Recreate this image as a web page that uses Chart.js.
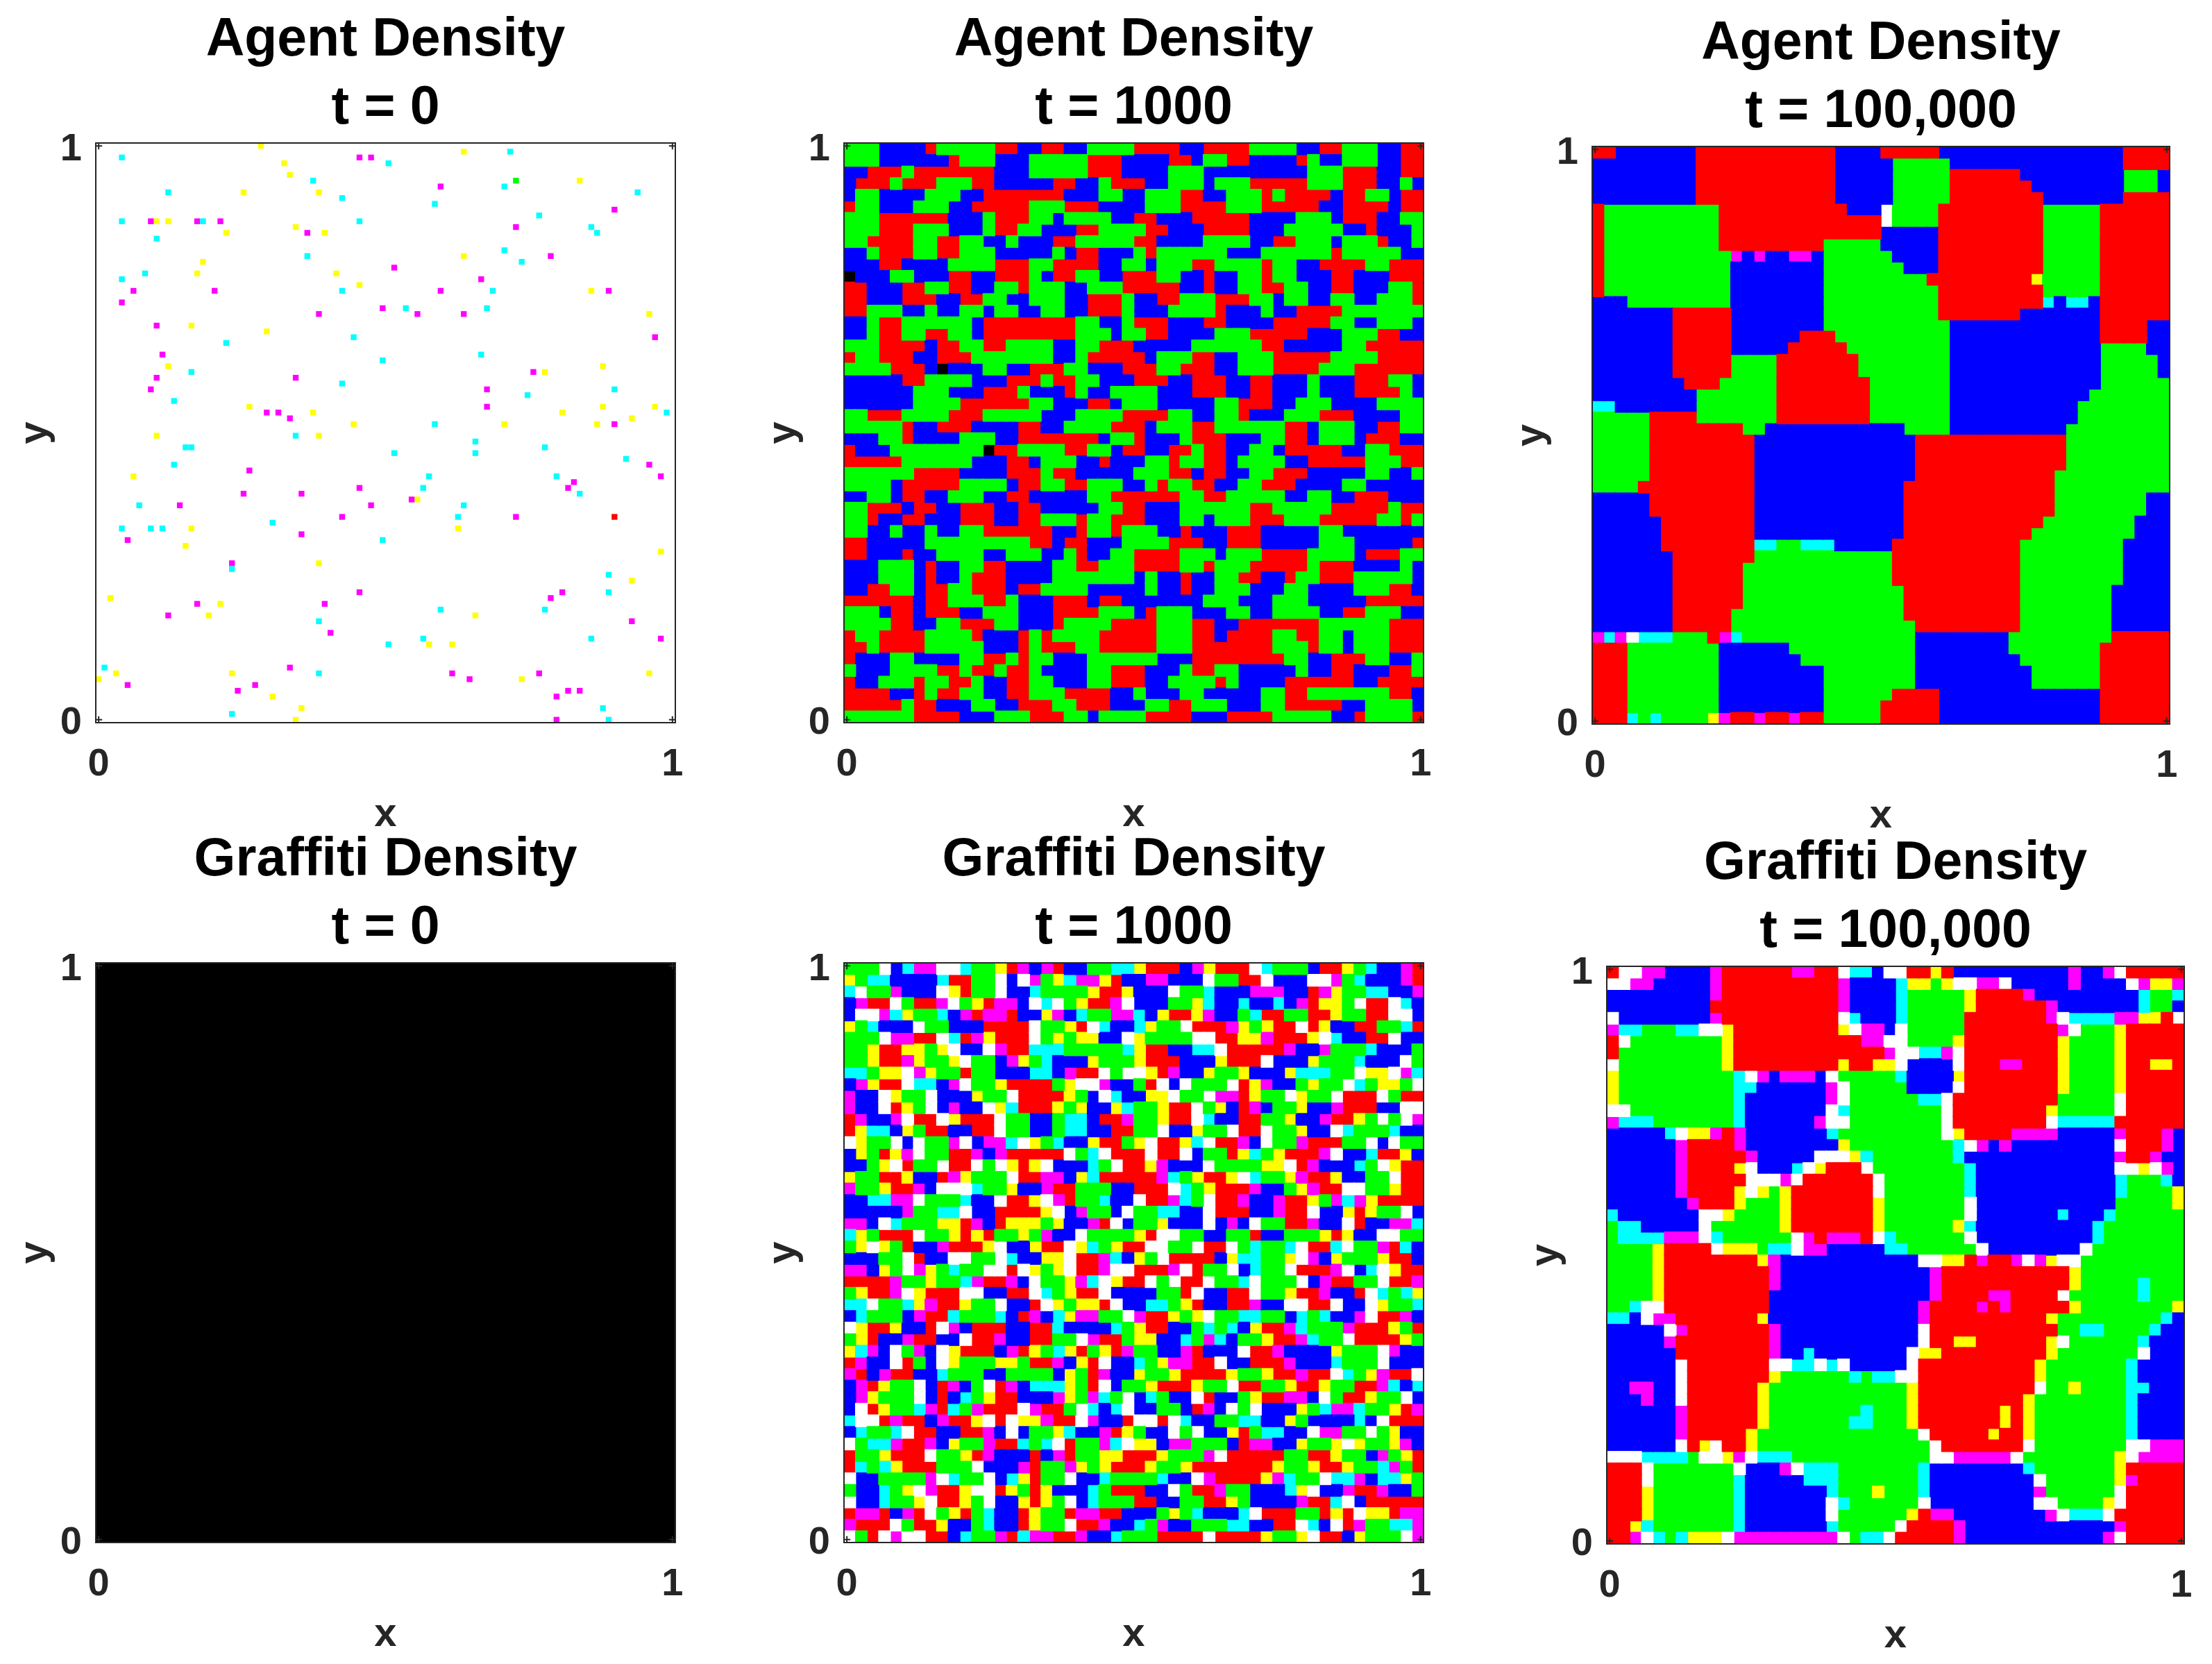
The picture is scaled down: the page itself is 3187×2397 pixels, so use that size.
<!DOCTYPE html>
<html>
<head>
<meta charset="utf-8">
<title>Agent and Graffiti Density</title>
<script src="https://cdn.jsdelivr.net/npm/chart.js@4"></script>
<style>
    html, body { margin: 0; padding: 0; background: #fff; width: 3187px; height: 2397px; overflow: hidden; }
    canvas { position: absolute; }
</style>
</head>
<body>
<script>
// t = 0 agents, [column, row] on the 100 x 100 lattice, row 0 at the top
const agentT0Cyan = [[4,2],[12,8],[4,13],[10,16],[18,13],[37,6],[42,9],[50,3],[45,13],[58,10],[71,1],[70,7],[76,12],[85,14],[86,15],[93,8],[70,18],[73,20],[36,19],[4,23],[8,22],[42,25],[68,25],[53,28],[67,28],[22,34],[44,33],[66,36],[49,37],[16,39],[42,41],[13,44],[74,43],[89,42],[98,46],[58,48],[34,50],[15,52],[16,52],[65,51],[65,53],[77,52],[51,53],[91,54],[13,55],[57,57],[56,59],[79,57],[83,60],[7,62],[63,62],[62,64],[30,65],[4,66],[9,66],[11,66],[49,68],[23,73],[88,74],[88,77],[59,80],[77,80],[38,82],[56,85],[50,86],[85,85],[1,90],[38,91],[23,98],[87,97],[88,99]];
const agentT0Magenta = [[45,2],[47,2],[59,7],[89,11],[9,13],[17,13],[21,13],[36,15],[72,14],[78,19],[51,21],[66,23],[6,25],[20,25],[59,25],[88,25],[4,27],[49,28],[38,29],[55,29],[63,29],[10,31],[96,33],[11,36],[75,39],[34,40],[10,40],[9,42],[67,42],[67,45],[29,46],[31,46],[33,47],[89,48],[26,56],[95,55],[97,57],[82,58],[81,59],[45,59],[25,60],[35,60],[47,62],[54,61],[14,62],[42,64],[72,64],[5,68],[35,67],[23,72],[45,77],[80,77],[78,78],[17,79],[39,79],[12,81],[92,82],[40,84],[97,85],[33,90],[61,91],[64,92],[76,91],[5,93],[27,93],[24,94],[79,95],[81,94],[83,94],[79,99]];
const agentT0Yellow = [[28,0],[63,1],[32,3],[33,5],[83,6],[25,8],[38,8],[10,13],[12,13],[34,14],[22,15],[39,15],[18,20],[63,19],[17,22],[41,22],[45,24],[85,25],[95,29],[16,31],[29,32],[12,38],[77,39],[87,38],[26,45],[37,46],[87,45],[96,45],[80,46],[92,47],[44,48],[70,48],[86,48],[10,50],[38,50],[6,57],[55,61],[16,66],[62,66],[15,69],[97,70],[38,72],[92,75],[2,78],[21,79],[19,81],[65,81],[57,86],[61,86],[3,91],[23,91],[95,91],[0,92],[73,92],[30,95],[35,97],[34,99]];
const agentT0Red = [[89,64]];
const agentT0Green = [[72,6]];

// Cell states per row, top row first. Spaces are only there to make the rows countable.
const agentT1000 = [
    'GGGBBBBRGG GGGRRBBRRB BGGGGRRRRB BRRRRGGGGB BRRGGGBBRR',
    'GGGBBBBBBR GGGBBBGGGG GRRRBBBBRR BGGRRBBBBR GBBGGGBBRR',
    'BBRRRGRRRR RRRBBBGGGG GRRRBBBBGG GBBBBBBBBB GGGRRRBBRR',
    'BRRRGRRRGG GRRBBBBBRR BBGRRRBBGG GBGGGRRRRR GGGRRRBBGB',
    'BGGBBBBGGG BBRRRRRRRB BBGGBBGGGR RBBGGGRGRR RRBRRGGBRR',
    'RGGBBBGGGB BRRRRRGGGR RRBBBBGGGR RRRGGGRRRR RBBRRRRBRR',
    'GGGRRRRRRB BBGRRRGGBG GGGBBRRBBB RRRRRBBBBG GGBRRRBBGG',
    'GGGRRRGGGB BBGRRGGBBB RRGGGGRRBB BRRRRBBBGG GGGBBRBBBG',
    'GGRRRRGGRR GGBBGBBBRR GGGGGRRBBB BGGGGBBRRG GGBGGGRBBG',
    'BBGRRRGGRR GGGBBBBBGB RRBBBGRGGG GGGBBBGGGG GGRGGGGGBB',
    'BBBRRBBBBG GGGRRRGGRR RRBBGGBGGG RRGGGGRGGB BRRRRGGRRR',
    'KBBBGGBBBR RBBRRRGBRR GGBBRRRGGB BRBBGGRGGB BBRRBBBRRR',
    'RRBBBRRGGR RBBGGRGGGB BGGGRRRRRB BRBBGGRRGG BBRRBBBGGR',
    'RRBBBRRRBB RRGGBBGGGB BRRRGBBRRG GGRRRGGBGG BBGGBBGGGR',
    'RRGGGBBGBB GGBGGBBGGB BRRRGBBBGG GGRBBBGBBR RRRGGGGGGG',
    'BBGRRGGGGG GBRRRRRRRR GGBBGRRRBB BRRBBBBRRR RRGGBBGGGB',
    'BBGRRGGRRG GBRRRRRRRR GGGBGGRRBB BBGGGRRRRR BBBGGGRRBB',
    'GGGRRRRBRR GGRRGGGGBB GGRRRBBBBB GGGGGGRRBB BBBGGRRRRR',
    'RGGRRRBBRR RGGGGGGGBB GRRRRRBGGG RRBBGGGRRR RRGGGGRRRR',
    'GGGGRRRBKB BBGGBBRRRG GBBBRRRGGR RRBBGGGRRR RGGGRRRRRR',
    'BBBBBRRGGG GBBBRRRGRR GGBBBRRRBB RRRBBRRBBB GBBBRRRGGB',
    'BBBBBBGGGB BBRRRGBBBR GBBGGGGBBB RRRBBRRBBB GBBBRRRRGB',
    'BBBBBBGGGG RRRRRRGGBB BRRBGGGBBB BBGGRRRBBG GGBBBBGGGG',
    'GGRRRGGGGR RRGGGGGBBB GGGGRRRRGG BBGGRBBBGG GRRRBBBBGG',
    'GGGGGRBBRR RBBBBRRBBG GGGRRRBGGG RRGGGGGGRR BGGGBBRRGG',
    'BBBGGRBBBB GGGBBRRRRR RRBGGRBBBG RRRBBBGGRR BGGGBRRRBB',
    'RBBBGGGGGG GGKRRGGGGR RGGBRRBBRR GRRBBGGBRR RRRBBGGRRR',
    'RRRRRGGGGG GBBBRRBGGG BBRBBBGGRG GRRBGGGGBB RRRRRGGGRR',
    'GGGGGGRRRR BBBBRRRGRR BBBBBGGGRR BRRBBGGRRR BBBBBGGBBG',
    'GGGGBRRRRR GGGGBRRGGR RGGGBBGRGG RRBBGGRRRB BBBGGBBBBB',
    'BBGGBRRBBG GGBBRRBBBB BGGRRRRRRG GRRGGGGGBB GGBBRRRBBB',
    'GGRRRBRRBB RRRBBRRBBB BBGGRRBBBG GGGGGRRGGG GGRRRRRGRR',
    'GGRBBRRBBB RRRBBRRGGG RGGRRRBBBG GBGGGRRRGG GRRRRRGGRG',
    'GGBBGBBGBB GGRRRRRRBB RGGRGGGBBR BBBRRRBBBB BGGBBBBBBB',
    'RRBBBBBGGG GGGGGGRRBR RBBBGGGGRR RBBRRRBBBB BGGGBBBBBR',
    'RRBBBRBBGG GGBBGGGBBG RBBGGRRRRG GGBGGGRRRR GGGGBRRRGG',
    'BBBGGGBRBB GGRRBBBBGG RRGGGRRRRG GRGGGRRRRR GRRRBBBBGB',
    'BBBGGGBRBB GRRRBBBBGG GGGGGBGBBR BBGGRRBBRG GRRRGGGGGB',
    'BBRRGGBRRG GRRRBRRGGG GBBBBBGBBR BBGGGBBBGG BBBBGGGRRB',
    'RRRRRRBRRG GGRRGBBBRR RBRRBBBBBB BGGGBBBGGG BBBBBRRRRR',
    'GGGBRRBRRR BBGGGBBBRR RRGGGBRGGG BBBGGBBGGG GBBRRGGGBB',
    'GGGGRRBBGG RRRGGBBBRG GGGRRRRGGG RRBBRRRRRR RGGGGGGRRR',
    'RGGRRRRGGG GRBBBRGRGG GGRRRRRGGG RRBRRRRGGR RGGBGGGRRR',
    'RRGRRRRGGG GGBBBRGRRR GGRRRRRGGG RRRRRRRGGG RGGBGGGRRR',
    'RBBBGGBBBB GGRRGRGGBB BGGGGGGBBB RRRRRRRRGG BBRRRGGBBG',
    'GBBBGGGGRR GRRGRRGBBB BGGRRRBBBG RRGGBBBBBG BBRRBBBRRG',
    'RBBGGGRGGR RGBBRRGGBB BGGRRRBBGG GGRGBBBBRR RRRRBBRRRR',
    'RRRRBBRGRR GGBBRRGGGR RRRBBGBBBG GBBBBBGGRR GGGGGGGRRB',
    'RRRRRGRRBB BGGBBRRRGG RRRBBBGGRR GGGBBBGGRR RRRBBGGGGB',
    'GGGGGGRRRR BBBGGGRRRG GBGGGGRRRR BBBRRRRGGG GGBBRGGGGR'
];

const agentT100000 = [
    'RRBBBBBBBR RRRRRRRRRR RBBBBRRRRR BBBBBBBBBB BBBBBBRRRR',
    'BBBBBBBBBR RRRRRRRRRR RBBBBBGGGG GBBBBBBBBB BBBBBBRRRR',
    'BBBBBBBBBR RRRRRRRRRR RBBBBBGGGG GRRRRRRBBB BBBBBBGGGB',
    'BBBBBBBBBR RRRRRRRRRR RBBBBBGGGG GRRRRRRRBB BBBBBBGGGB',
    'BBBBBBBBBR RRRRRRRRRR RBBBBBGGGG GRRRRRRRRB BBBBBBRRRR',
    'RGGGGGGGGG GRRRRRRRRR RRBBBWGGGG RRRRRRRRRG GGGGRRRRRR',
    'RGGGGGGGGG GRRRRRRRRR RRRRRWGGGG RRRRRRRRRG GGGGRRRRRR',
    'RGGGGGGGGG GRRRRRRRRR RRRRRBBBBB RRRRRRRRRG GGGGRRRRRR',
    'RGGGGGGGGG GRRRRRRRRR GGGGGBBBBB RRRRRRRRRG GGGGRRRRRR',
    'RGGGGGGGGG GGMBMBBMMB GGGGGGBBBB RRRRRRRRRG GGGGRRRRRR',
    'RGGGGGGGGG GGBBBBBBBB GGGGGGGBBB RRRRRRRRRG GGGGRRRRRR',
    'RGGGGGGGGG GGBBBBBBBB GGGGGGGGGR RRRRRRRRYG GGGGRRRRRR',
    'RGGGGGGGGG GGBBBBBBBB GGGGGGGGGG RRRRRRRRRG GGGGRRRRRR',
    'BBBGGGGGGG GGBBBBBBBB GGGGGGGGGG RRRRRRRRRC BCCBRRRRRR',
    'BBBBBBBRRR RRBBBBBBBB GGGGGGGGGG RRRRRRRBBB BBBBRRRRRR',
    'BBBBBBBRRR RRBBBBBBBB GGGGGGGGGG GBBBBBBBBB BBBBRRRRBB',
    'BBBBBBBRRR RRBBBBBBRR RGGGGGGGGG GBBBBBBBBB BBBBRRRRBB',
    'BBBBBBBRRR RRBBBBBRRR RRGGGGGGGG GBBBBBBBBB BBBBGGGGBB',
    'BBBBBBBRRR RRGGGGRRRR RRRGGGGGGG GBBBBBBBBB BBBBGGGGGB',
    'BBBBBBBRRR RRGGGGRRRR RRRGGGGGGG GBBBBBBBBB BBBBGGGGGB',
    'BBBBBBBBRR RGGGGGRRRR RRRRGGGGGG GBBBBBBBBB BBBBGGGGGG',
    'BBBBBBBBBG GGGGGGRRRR RRRRGGGGGG GBBBBBBBBB BBBGGGGGGG',
    'CCBBBBBBBG GGGGGGRRRR RRRRGGGGGG GBBBBBBBBB BBGGGGGGGG',
    'GGGGGRRRRG GGGGGGRRRR RRRRGGGGGG GBBBBBBBBB BBGGGGGGGG',
    'GGGGGRRRRR RRRGGBBBBB BBBBBBBGGG GBBBBBBBBB BGGGGGGGGG',
    'GGGGGRRRRR RRRRBBBBBB BBBBBBBBRR RRRRRRRRRR RGGGGGGGGG',
    'GGGGGRRRRR RRRRBBBBBB BBBBBBBBRR RRRRRRRRRR RGGGGGGGGG',
    'GGGGGRRRRR RRRRBBBBBB BBBBBBBBRR RRRRRRRRRR RGGGGGGGGG',
    'GGGGGRRRRR RRRRBBBBBB BBBBBBBBRR RRRRRRRRRR GGGGGGGGGG',
    'GGGGRRRRRR RRRRBBBBBB BBBBBBBRRR RRRRRRRRRR GGGGGGGGGG',
    'BBBBBRRRRR RRRRBBBBBB BBBBBBBRRR RRRRRRRRRR GGGGGGGGBB',
    'BBBBBRRRRR RRRRBBBBBB BBBBBBBRRR RRRRRRRRRR GGGGGGGGBB',
    'BBBBBBRRRR RRRRBBBBBB BBBBBBBRRR RRRRRRRRRG GGGGGGGBBB',
    'BBBBBBRRRR RRRRBBBBBB BBBBBBBRRR RRRRRRRRGG GGGGGGGBBB',
    'BBBBBBRRRR RRRRCCGGCC CBBBBBRRRR RRRRRRRGGG GGGGGGBBBB',
    'BBBBBBBRRR RRRRGGGGGG GGGGGGRRRR RRRRRRRGGG GGGGGGBBBB',
    'BBBBBBBRRR RRRGGGGGGG GGGGGGRRRR RRRRRRRGGG GGGGGGBBBB',
    'BBBBBBBRRR RRRGGGGGGG GGGGGGRRRR RRRRRRRGGG GGGGGGBBBB',
    'BBBBBBBRRR RRRGGGGGGG GGGGGGGRRR RRRRRRRGGG GGGGGBBBBB',
    'BBBBBBBRRR RRRGGGGGGG GGGGGGGRRR RRRRRRRGGG GGGGGBBBBB',
    'BBBBBBBRRR RRGGGGGGGG GGGGGGGRRR RRRRRRRGGG GGGGGBBBBB',
    'BBBBBBBRRR RRGGGGGGGG GGGGGGGGRR RRRRRRRGGG GGGGGBBBBB',
    'MCMWCCCGGG RMCGGGGGGG GGGGGGGGBB BBBBBBGGGG GGGGGRRRRR',
    'RRRGGGGGGG GBBBBBBGGG GGGGGGGGBB BBBBBBGGGG GGGGRRRRRR',
    'RRRGGGGGGG GBBBBBBBGG GGGGGGGGBB BBBBBBBGGG GGGGRRRRRR',
    'RRRGGGGGGG GBBBBBBBBB GGGGGGGGBB BBBBBBBBGG GGGGRRRRRR',
    'RRRGGGGGGG GBBBBBBBBB GGGGGGGGBB BBBBBBBBGG GGGGRRRRRR',
    'RRRGGGGGGG GBBBBBBBBB GGGGGGRRRR BBBBBBBBBB BBBBRRRRRR',
    'RRRGGGGGGG GBBBBBBBBB GGGGGRRRRR BBBBBBBBBB BBBBRRRRRR',
    'RRRCGCGGGG YMRRMRRMRR GGGGGRRRRR BBBBBBBBBB BBBBRRRRRR'
];

// no graffiti yet: the whole field is black
const graffitiT0 = [
    'KKKKKKKKKK', 'KKKKKKKKKK', 'KKKKKKKKKK', 'KKKKKKKKKK', 'KKKKKKKKKK',
    'KKKKKKKKKK', 'KKKKKKKKKK', 'KKKKKKKKKK', 'KKKKKKKKKK', 'KKKKKKKKKK'
];

const graffitiT1000 = [
    'GGGWBCMMWW CGGYRMBMRB BGGCCYRRRB MYRRRWCGGG BRRYGCBBMR',
    'YGCCBBBBCR RGGWBWMGYC MMYRBBMMBB BWGGRRWBBB WWMGCBBBMR',
    'CWGGMBBBWY RGGWBBCGGG GYRRYBBBWG GCBBBMMMBB RMYGGCCBBM',
    'BMRRWGRRMW GYRMMBWCWG YRRMWBBBGG YCBBCBBCBM RYYGWRRWCB',
    'BWWMCYGGCB MRMMRBBYMB CGGMMCBYRR YMBBGCRRGG RRYGGRRWWB',
    'YGCBBBWGGB BBRRRRWGGY RWCBBCYGGW RRRMYGYRRW RYBBRRGGCR',
    'GGGWMMRRWC RMYRRRWGYG YYBBWYGGGG WWRRYYMRRR YWCBBRRWBB',
    'GGYRRYYGYW BBWMRRCCCG GGGGCYRRBB CCWRRRRRMB BMGGGCBBBG',
    'GGYRRMYGGY WGGBMYGCBB BYGGGYRRRB BBYRRRWBBB YGGGCBBBWG',
    'CCGYYWMYGG RGGBBBCCBM RRWGWWYRMB BYGGYBBBYC CCGGWYYWMC',
    'BMYRRWCCBM WGGYRRRRGY WWMBBGRWBW GGGWRYMBBG YGGWCGYYGW',
    'MBBWYGGWBB BYGGWRRRRY GBWCBBYYWG GWMMRYGGWY GGWRRRWGRR',
    'MBBWRYGWBM BBWYCRRRYG YBBYCGGYRR WGYBRMBGGY BBMRRRBBWW',
    'RMBBMWRRWY RRRWGGBBGC CBRRMGGYRR WCBBRRGGYB BMRRYGWGWM',
    'RYCCBYGRRB BRRWGGBBGC CBBRRGGWBB YGGWRRWGGY BBWCGGGCBB',
    'WYGGWBWGGM WBMMCWYGCB BYRRGYWRRY CWRRMBWGGM RRRGGWBWGG',
    'BYGRYMWGGR RMBMRRRRRW GCWRRRWRRW BGGRYCGYRR RMWBBCRRYB',
    'BBGYWRGGWR RWGWYRYWBB BCGWRRYMBB BWGGGGYYWR MBBBCGWYRR',
    'YGGRRYBBRM YGGGWRRMMB YCRRRRRMCG YRRYWCGGYM RRYBBGGWRR',
    'MGGYRRMBWW WCGGYBBMRR GGGBBRRRWC GYRRRMBBGY MRRWWGGYRR',
    'BBCCMMWGGG CBBWRRYWMR GGCBBWRRMC GWRRMBBMRR YGMCMYRRRR',
    'BBBBBMGGCC WBBRRRRYWB MGGBWGGCCB BWRRRBBMRR WBBYRYGGWB',
    'MMBWCGGGYY RMBRYYYGYB BMRWBGGYBB BWBMBWGGRR MBBWRBBMMC',
    'CYGRRRWGGY RYRGGYGMBB WGGGGYRWWG GBBGGRBBGG GYRYBBWWGG',
    'GYWYGRBBMR RRYWBBYRRW YCGYRRWWGG WRRWGCGGCW RRCWGGMRCB',
    'BBBGGWRBBW WGGWCBBYYW RRMCBYGWRR RRBYCCGGYW MBYGGGYRRB',
    'MMBYGWMYGC GGWWRWYGYW RRMWWRRRMW RGGWBCGGWR RRMWBCWYRR',
    'RRRRMGGYGG CMRRMBWGGY MCWYRRWGWR RWGGCWGGGW BMRRGGWRRM',
    'GYRRMWYRRR WWBBRRWCGY RRWBBBBGGR WBBRRWGGYR RMBBRWCGCY',
    'CCWGGCYMRR YGGWBBRWYG YYRWBBCCGY RBBRRMBBWW RRWBBWYGGC',
    'BCGGGBMRRC GGGCBRMBCY MMGGWMRRYG YWGGCCGGBC GCBBMWRRMB',
    'WYRRYBBRWM BRRRBBRRCB BBBCGYRRBB GCGCBYRRMC GGGMRRRYGR',
    'GYRBBMRRBB WRRMBBRRGG WMRRGYYBBC GMCBGGYRRM CGGWRRRRYG',
    'YCMBWGMBWY RRRBMRYGCY RGYRMGGBBM RBBBWRRMBB BBYGGGWMBB',
    'RMBBWRGBWY GGGYYGRRMB YRWBBCGYMM RRWBBRRRMB BBCGGGWBBB',
    'MRBMRRBBCG GGBBGGGGBY GRMBBYGGYR RRRYGGYRRM RRWCGYMRRW',
    'BMRYGGWBRM BGWRMBCCCY GRWBGGYRRR YGGWRRGGYR RYGGRRMCBC',
    'BMYGGGWBRB CGYRRBBBMY GMCGWBCGBB WRBBGYRRMM BWGRRYGGWB',
    'BWRYGGCMRC GMRRRWMRRG WCBCWBBGGB RMBWGWBBBY GCMMCGGYRM',
    'CWWRMRRBMR RYWRWYYMRR WMBBRWWRWC BBGGCCBBYG BBBBCBWRRR',
    'BCGGCWRRBB RRMBWBGGYC BBMRYGBBWG WBBYRGCCBB WMMGGWGYBB',
    'WGCCMRRMBY GGMRRCGCWR GGMCWYYBMM GGGBRMMBBY GGYWYGGYMB',
    'RGGYRRRWGG YRMBBBRBMR GGYYRRRYGG GMWRRRRRGG RRYGGBMGYR',
    'RCGCYRRRGG GWBBBMRGGM YGYRRRYGGY RRRRRRRYGG YRRYGGCMGR',
    'WBBGGGGMWC GGWBCYRGGW BBCGGGGCBB WMRRRRYMCG GWCCMBCCYG',
    'GBBCGYWMRR YWWRYGRYBB BCGRRRBBWG RRMGGBBBCY WBBMRRMBBG',
    'WBBCGGYWRR YGWBBYRYGW BCGGGRRBBG GRRYGBBBBM RRCWBRRRRR',
    'RMMRBMRWGY RGCBBRYGGR MMRRBBBGYG CBBBCWRRRG GRYRWYYRMM',
    'MRRRWGRRYB BGCBBRYGGW RRMBBCGMBB GGGCCBBRRW CBWRMGGCCM',
    'WGRWMWWRRB CGGMRCMMRR MBBCGGGRRR RWRRRRYGGY WRRBYGGGWM'
];

const graffitiT100000 = [
    'RWWMMBBBBM RRRRRRMMRR WCCBWWRRYR BBBBBBBBBB MBBMWRRRRR',
    'WWMMBBBBBM RRRRRRRRRR MBBBBCYYGY WWMMWBBBBB MBBBBWMYYM',
    'BBBBBBBBBM RRRRRRRRRR MBBBBCGGGG GYRRRRMBBB BBBBBBCGGC',
    'BBBBBBBBBR RRRRRRRRRR MBBBBCGGGG GYRRRRRRMB BBBBBBCGGB',
    'WBBBBBBBBM RRRRRRRRRR WCBBBCGGGG GRRRRRRRMW CCCCMMYYRW',
    'MCCGGGCCWW YRRRRRRRRR YWMMBWGGGG GRRRRRRRRM WGGGYRRRRR',
    'RWGGGGGGGG YRRRRRRRRR RRMMWWGGGG YRRRRRRRRY GGGGYRRRRR',
    'RGGGGGGGGG YRRRRRRRRR RRRRMWWCCM WRRRRRRRRY GGGGYRRRRR',
    'WGGGGGGGGG YRRRRRRRRR YRRYYWBBBB WRRRMMRRRY GGGGYRRYYR',
    'YGGGGGGGGG GCWMBMMMBW GGGGGCBBBB YRRRRRRRRY GGGGYRRRRR',
    'YGGGGGGGGG GCCBBBBBBM WGGGGGBBBB WRRRRRRRRY GGGGYRRRRR',
    'YGGGGGGGGG GCBBBBBBBM WGGGGGGCCW RRRRRRRRRG GGGGWRRRRR',
    'WWGGGGGGGG GCBBBBBBBW CGGGGGGGGW RRRRRRRRYG GGGGWRRRRR',
    'MCCCGGGGGG GCBBBBBBMW WGGGGGGGGW RRRRRRRRWC CCCCRRRRRR',
    'BBBBBCWYYM RMBBBBBBBC GGGGGGGGGW YRRRRMMMMB BBBBMRRRMB',
    'BBBBBBMRRR RMBBBBBBBB YGGGGGGGGG CWMBMBBBBB BBBBWRRRMB',
    'BBBBBBMRRR RRMBBBBBWW WYCGGGGGGG CBBBBBBBBB BBBBMRRMBB',
    'BBBBBBMRRR RYWBBBCWYR RRWGGGGGGG GCBBBBBBBB BBBBWWYWMB',
    'BBBBBBMRRR RRWWWMWRRR RRRWGGGGGG GCBBBBBBBB BBBBCGGGCB',
    'BBBBBBMRRR RYWYGYRRRR RRRWGGGGGG GCBBBBBBBB BBBBCGGGGY',
    'BBBBBBBMRR RYGGGYRRRR RRRYGGGGGG GWBBBBBBBB BBBBGGGGGY',
    'CBBBBBBBWW YGGGGYRRRR RRRYGGGGGG GWBBBBBBBC BBBCGGGGGG',
    'GCCBBBBBWG GGGGGYRRRR RRRYGGGGGG YCBBBBBBBB BBCGGGGGGG',
    'GCCCCMMMWC GGGGGGWMRM MMRWCGGGGG GWBBBBBBBB BBCGGGGGGG',
    'GGGGYRRRRW YYYGCCWMMB BBBBCCGGGG GGWBBBBBBB BWGGGGGGGG',
    'GGGGYRRRRR RRRYMBBBBB BBBBBBBWWY YRMRRMWMYW WGGGGGGGGG',
    'GGGGYRRRRR RRRRMBBBBB BBBBBBBBMR RRRRRRRRRR YGGGGGGGGG',
    'GGGGYRRRRR RRRRMBBBBB BBBBBBBBMR RRRRRRRRRR YGGGGGCGGG',
    'GGGGYRRRRR RRRRBBBBBB BBBBBBBBMR RRRMMRRRRW GGGGGGCGGG',
    'GGCWWRRRRR RRRRBBBBBB BBBBBBBMRR RRMRMRRRRR YGGGGGGGGY',
    'CCBWMMRRRR RRRYBBBBBB BBBBBBBMRR RRRRRRRRYG GGGGGGGGCB',
    'BBBBBWMRRR RRRRMBBBBB BBBBBBBWRR RRRRRRRRRG GCCGGGGCBB',
    'BBBBBMRRRR RRRRMBBBBB BBBBBBBWRR YYRRRRRRYW GGGGGGCBBB',
    'BBBBBBRRRR RRRRMBBCBB BBBBBBWYYR RRRRRRRRYG GGGGGGWBBB',
    'BBBBBBWRRR RRRRWWCCWC WBBBBBWRRR RRRRRRRYGG GGGGGCBBBB',
    'BBBBBBWRRR RRRRYGGGGG GCGCCWWRRR RRRRRRRYGG GGGGGCBBBB',
    'BBMMBBWRRR RRRYGGGGGG GGGGGGYRRR RRRRRRRWGG YGGGGCCBBB',
    'BBBMBBWRRR RRRYGGGGGG GGGGGGYRRR RRRRRRYGGG GGGGGCBBBB',
    'BBBBBBMRRR RRRYGGGGGG GGCGGGYRRR RRRRYRYGGG GGGGGCBBBB',
    'BBBBBBMRRR RRRYGGGGGG GCCGGGYRRR RRRRYRYGGG GGGGGCBBBB',
    'BBBBBBMRRR RRYGGGGGGG GGGGGGGWRR RRRYRRYGGG GGGGGCBBBB',
    'BBBBBBWRYW RRYGGGGGGG GGGGGGGGWR RRRRRRWGGG GGGGGWWMMM',
    'WWWCCCCGWW YMWCCCGGGG GGGGGGGGWW MMMMMWGGGG GGGGYWMMMM',
    'RRRWGGGGGG GWBBBMWCCC GGGGGGGCBB BBBBBBCGGG GGGGYRRRRR',
    'RRRWGGGGGG GCBBBBBCCC GGGGGGGCBB BBBBBBBWGG GGGGYMRRRR',
    'RRRYGGGGGG GCBBBBBBBC GGGYGGGCBB BBBBBBBMGG GGGGWRRRRR',
    'RRRYGGGGGG GCBBBBBBBW CGGGGGGWBB BBBBBBBWWG GGGYWRRRRR',
    'RRRYGGGGGG GCBBBBBBBW GGGGGGYRMM BBBBBBBBMW CCCWRRRRRR',
    'RRYCGGGGGG GCBBBBBBBC GGGGGWRRRR MBBBBBBBBB BBBBMRRRRR',
    'RRMWCGCYYY WMMMMMMMMM WGCCWRRRRR MBBBBBBBBB BBBMWRRRRR'
];

const tickValues = [0.005, 0.995];
const tickLabels = ['0', '1'];

const cellColors = { R: '#ff0000', G: '#00ff00', B: '#0000ff', C: '#00ffff', M: '#ff00ff', Y: '#ffff00', W: '#ffffff', K: '#000000' };
const AXIS_COLOR = '#262626';
const FONT = '"Liberation Sans", Arial, sans-serif';

// room reserved left and right of each plot, and above / below it
const SIDE = 130;
const TITLE_H = 202;
const BOTTOM_H = 162;

function pointListsToCells(lists, n) {
    const out = {};
    Object.keys(lists).forEach(key => {
        out[key] = lists[key].map(([c, r]) => ({ x: (c + 0.5) / n, y: 1 - (r + 0.5) / n }));
    });
    return out;
}

function rowsToCells(rows) {
    const clean = rows.map(r => r.replace(/ /g, ''));
    const n = clean.length;
    const out = {};
    clean.forEach((row, r) => {
        row.split('').forEach((key, c) => {
            (out[key] = out[key] || []).push({ x: (c + 0.5) / n, y: 1 - (r + 0.5) / n });
        });
    });
    return { cells: out, n: n };
}

const boxPlugin = {
    id: 'axesBox',
    afterDatasetsDraw(chart) {
        const a = chart.chartArea;
        const ctx = chart.ctx;
        ctx.save();
        ctx.strokeStyle = AXIS_COLOR;
        ctx.lineWidth = 2;
        ctx.strokeRect(a.left, a.top, a.right - a.left, a.bottom - a.top);
        ctx.restore();
    }
};

function axisOptions(label, isY, titlePad) {
    return {
        type: 'linear',
        min: 0,
        max: 1,
        grid: { display: false, drawTicks: false },
        border: { display: false },
        afterBuildTicks: scale => { scale.ticks = tickValues.map(v => ({ value: v })); },
        afterFit: scale => {
            if (isY) scale.width = SIDE; else scale.height = BOTTOM_H;
        },
        ticks: {
            autoSkip: false,
            maxRotation: 0,
            padding: isY ? 20 : 27,
            labelOffset: isY ? 5 : 0,
            color: AXIS_COLOR,
            font: { family: FONT, size: 56, weight: 'bold', lineHeight: 1.2 },
            callback: (v, i) => tickLabels[i]
        },
        title: {
            display: true,
            text: label,
            color: AXIS_COLOR,
            padding: titlePad,
            font: { family: FONT, size: 58, weight: 'bold', lineHeight: 1 }
        }
    };
}

function drawPanel(p) {
    const size = p.size;
    const canvas = document.createElement('canvas');
    canvas.width = size + 2 * SIDE;
    canvas.height = TITLE_H + size + BOTTOM_H;
    canvas.style.left = (p.x - SIDE) + 'px';
    canvas.style.top = (p.y - TITLE_H) + 'px';
    canvas.style.width = canvas.width + 'px';
    canvas.style.height = canvas.height + 'px';
    document.body.appendChild(canvas);

    // a little overlap so antialiased cell edges leave no seams
    const side = (size / p.n) + (p.n === 100 ? 0 : 1.5);
    const datasets = [{
        label: 'ticks',
        data: tickValues.flatMap(x => tickValues.map(y => ({ x: x, y: y }))),
        pointStyle: 'cross',
        pointRadius: 5,
        pointBorderWidth: 2,
        borderColor: AXIS_COLOR,
        backgroundColor: AXIS_COLOR
    }];
    Object.keys(p.cells).forEach(key => {
        datasets.push({
            label: key,
            data: p.cells[key],
            pointStyle: 'rect',
            pointRadius: side / Math.SQRT2,
            pointBorderWidth: 0,
            backgroundColor: cellColors[key],
            borderColor: cellColors[key]
        });
    });

    new Chart(canvas, {
        type: 'scatter',
        data: { datasets: datasets },
        options: {
            responsive: false,
            animation: false,
            devicePixelRatio: 1,
            events: [],
            layout: { padding: { right: SIDE } },
            scales: {
                x: axisOptions('x', false, 0),
                y: axisOptions('y', true, { top: 14, bottom: 0 })
            },
            plugins: {
                legend: { display: false },
                tooltip: { enabled: false },
                title: {
                    display: true,
                    fullSize: false,
                    text: p.title,
                    color: '#000',
                    padding: { top: 6, bottom: 0 },
                    font: { family: FONT, size: 77, weight: 'bold', lineHeight: 1.2727 }
                }
            }
        },
        plugins: [boxPlugin]
    });
}

const t1000a = rowsToCells(agentT1000);
const t100000a = rowsToCells(agentT100000);
const t0g = rowsToCells(graffitiT0);
const t1000g = rowsToCells(graffitiT1000);
const t100000g = rowsToCells(graffitiT100000);
const t0a = pointListsToCells({ C: agentT0Cyan, M: agentT0Magenta, Y: agentT0Yellow, R: agentT0Red, G: agentT0Green }, 100);

const panels = [
    { title: ['Agent Density', 't = 0'], x: 138, y: 206, size: 835, cells: t0a, n: 100 },
    { title: ['Agent Density', 't = 1000'], x: 1216, y: 206, size: 835, cells: t1000a.cells, n: t1000a.n },
    { title: ['Agent Density', 't = 100,000'], x: 2294, y: 211, size: 832, cells: t100000a.cells, n: t100000a.n },
    { title: ['Graffiti Density', 't = 0'], x: 138, y: 1387, size: 835, cells: t0g.cells, n: t0g.n },
    { title: ['Graffiti Density', 't = 1000'], x: 1216, y: 1387, size: 835, cells: t1000g.cells, n: t1000g.n },
    { title: ['Graffiti Density', 't = 100,000'], x: 2315, y: 1392, size: 832, cells: t100000g.cells, n: t100000g.n }
];

panels.forEach(drawPanel);
</script>
</body>
</html>
